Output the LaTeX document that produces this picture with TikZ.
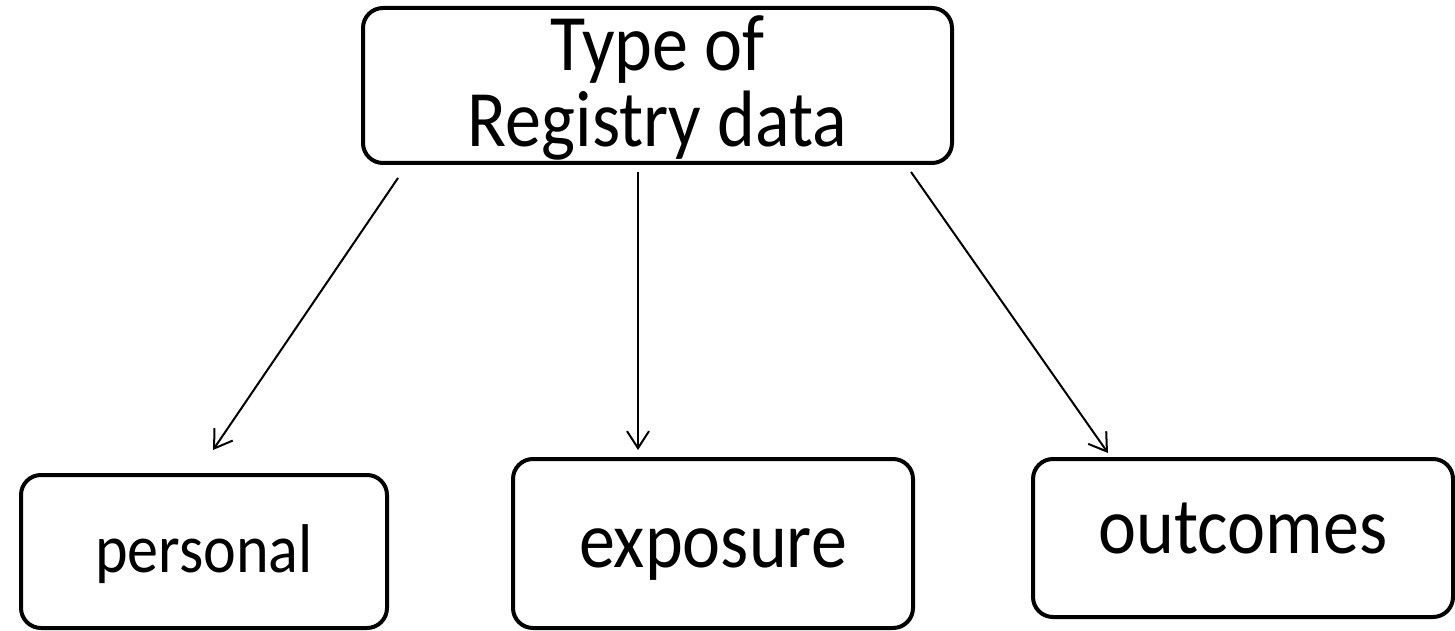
\documentclass[tikz,border=0pt]{standalone}
\usepackage{fontspec}
\setmainfont{Carlito}
% slightly condensed face: tall letters at the set widths
\newfontfamily\boxfont[FakeStretch=0.9]{Carlito}
\usetikzlibrary{arrows.meta,calc}
\begin{document}
\begin{tikzpicture}[x=1pt,y=-1pt,
  box/.style={draw, line width=4pt, rounded corners=20pt, inner sep=0pt, align=center},
  arr/.style={line width=2pt, -{Straight Barb[length=17pt,width=22pt,line width=2pt]}}]
\useasboundingbox (0,0) rectangle (1455,631);
% parent box
\node[box, minimum width=589pt, minimum height=155pt, text height=123pt, text depth=0pt,
      font=\boxfont\fontsize{80}{76}\selectfont] (top) at (657.5,85.5) {Type of\\Registry data};
% child boxes
\node[box, minimum width=366pt, minimum height=153pt, text height=41pt, text depth=0pt,
      font=\boxfont\fontsize{69}{75}\selectfont] (personal) at (204,551.5) {personal};
\node[box, minimum width=400pt, minimum height=169pt, text height=47pt, text depth=0pt,
      font=\boxfont\fontsize{80}{86}\selectfont] (exposure) at (713,543.5) {exposure};
\node[box, minimum width=420pt, minimum height=158pt, text height=30pt, text depth=0pt,
      font=\boxfont\fontsize{80}{86}\selectfont] (outcomes) at (1243,538) {outcomes};
% connectors
\draw[arr] ($(top.south west)+(37,13)$) -- ($(personal.north west)+(194,-23)$);
\draw[arr] ($(top.south west)+(277,7)$) -- ($(exposure.north west)+(127,-7)$);
\draw[arr] ($(top.south west)+(550,7)$) -- ($(outcomes.north west)+(77,-4)$);
\end{tikzpicture}
\end{document}
